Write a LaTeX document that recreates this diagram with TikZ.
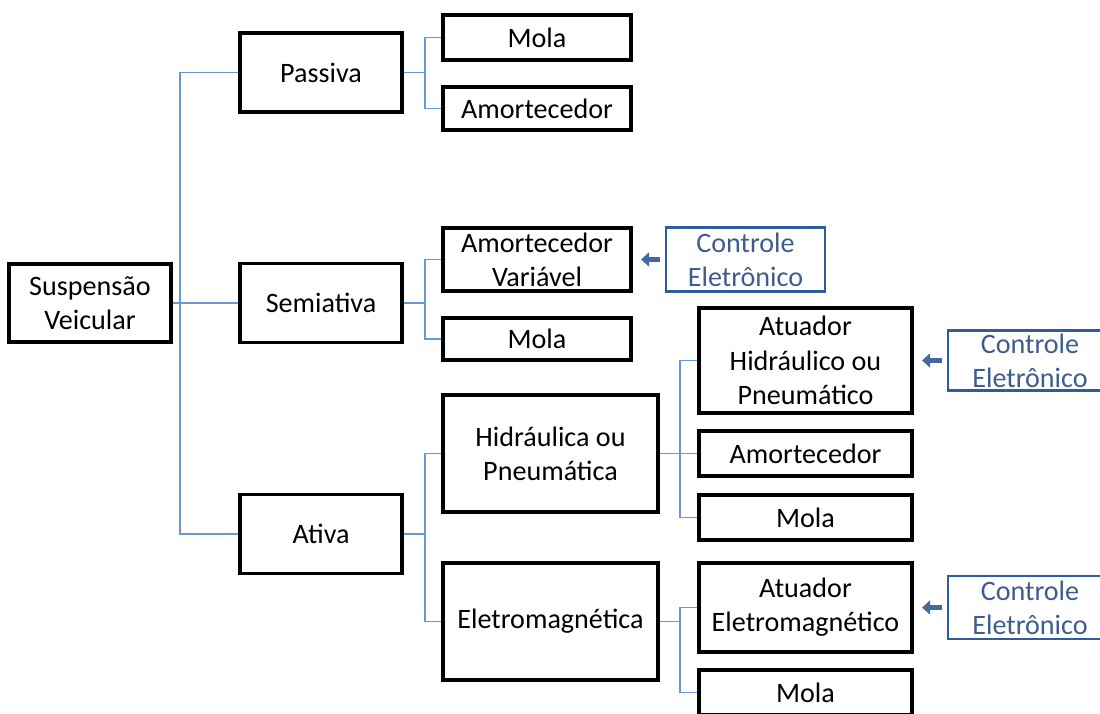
\documentclass[tikz,border=0pt]{standalone}
\usepackage{fontspec}
\setmainfont{Carlito}
\usepackage{tikz}
\usetikzlibrary{positioning, arrows.meta}

\definecolor{linkblue}{HTML}{6B96CF}
\definecolor{ctrlblue}{HTML}{2E5D9E}
\definecolor{ctrltext}{HTML}{3E5C8E}
\definecolor{feedblue}{HTML}{44699F}

\tikzset{
  box/.style={draw, line width=1.8pt, align=center, inner sep=0pt,
    font=\fontsize{16}{19.5}\selectfont},
  ctrl/.style={box, draw=ctrlblue, text=ctrltext, line width=1.3pt},
  link/.style={draw=linkblue, line width=0.9pt},
  feed/.style={draw=feedblue, line width=2.8pt, shorten <=0.1cm, shorten >=0.17cm,
    -{Triangle[length=0.16cm, width=0.28cm]}}
}

\begin{document}
\begin{tikzpicture}[node distance=2cm, on grid]
  \useasboundingbox (-1.8,-8.2) rectangle (20.2,6.06);
  \clip (-1.8,-8.2) rectangle (20.2,6.06);

  \node[box, minimum width=3.24cm, minimum height=1.56cm] (root) at (0,0) {Suspensão\\Veicular};
  \node[box, minimum width=3.24cm, minimum height=1.58cm] (passiva) [above right=4.61cm and 4.62cm of root] {Passiva};
  \node[box, minimum width=3.24cm, minimum height=1.58cm] (semi) [right=4.62cm of root] {Semiativa};
  \node[box, minimum width=3.24cm, minimum height=1.58cm] (ativa) [below=4.62cm of semi] {Ativa};

  % passiva
  \node[box, minimum width=3.76cm, minimum height=0.9cm] (pmola) [above right=0.7cm and 4.32cm of passiva] {Mola};
  \node[box, minimum width=3.76cm, minimum height=0.86cm] (pamort) [below right=0.72cm and 4.32cm of passiva] {Amortecedor};

  % semiativa
  \node[box, minimum width=3.76cm, minimum height=1.26cm] (samort) [above right=0.87cm and 4.32cm of semi] {Amortecedor\\Variável};
  \node[box, minimum width=3.76cm, minimum height=0.84cm] (smola) [below right=0.72cm and 4.32cm of semi] {Mola};
  \node[ctrl, minimum width=3.18cm, minimum height=1.28cm] (ctrl1) [right=4.17cm of samort] {Controle\\Eletrônico};

  % ativa
  \node[box, minimum width=4.3cm, minimum height=2.34cm] (hidr) [above right=1.61cm and 4.59cm of ativa] {Hidráulica ou\\Pneumática};
  \node[box, minimum width=4.3cm, minimum height=2.34cm] (eletro) [below right=1.75cm and 4.59cm of ativa] {Eletromagnética};

  \node[box, minimum width=4.26cm, minimum height=2.1cm] (atuh) [above right=1.86cm and 5.1cm of hidr] {Atuador\\Hidráulico ou\\Pneumático};
  \node[box, minimum width=4.26cm, minimum height=0.9cm] (hamort) [right=5.1cm of hidr] {Amortecedor};
  \node[box, minimum width=4.26cm, minimum height=0.9cm] (hmola) [below right=1.28cm and 5.1cm of hidr] {Mola};
  \node[ctrl, minimum width=3.28cm, minimum height=1.2cm] (ctrl2) [right=4.49cm of atuh] {Controle\\Eletrônico};

  \node[box, minimum width=4.26cm, minimum height=1.78cm] (atue) [above right=0.28cm and 5.1cm of eletro] {Atuador\\Eletromagnético};
  \node[box, minimum width=4.26cm, minimum height=0.9cm] (emola) [below right=1.42cm and 5.1cm of eletro] {Mola};
  \node[ctrl, minimum width=3.28cm, minimum height=1.26cm] (ctrl3) [right=4.49cm of atue] {Controle\\Eletrônico};

  \coordinate[right=1.8cm of root] (bus0);
  \coordinate[right=2.08cm of passiva] (bus1);
  \coordinate[right=2.08cm of semi] (bus2);
  \coordinate[right=2.08cm of ativa] (bus3);
  \coordinate[right=2.59cm of hidr] (bus4);
  \coordinate[right=2.59cm of eletro] (bus5);

  \path[link]
  (root.east) -- (semi.west)
  (passiva.west) -| (bus0) |- (ativa.west)
  (passiva.east) -- (bus1)
    (pmola.west) -| (bus1) |- (pamort.west)
  (semi.east) -- (bus2)
    (samort.west) -| (bus2) |- (smola.west)
  (ativa.east) -- (bus3)
    (hidr.west) -| (bus3) |- (eletro.west)
  (hidr.east) -- (hamort.west)
    (atuh.west) -| (bus4) |- (hmola.west)
  (eletro.east) -- (bus5)
    (atue.west) -| (bus5) |- (emola.west);

  \draw[feed] (ctrl1) -- (samort);
  \draw[feed] (ctrl2) -- (atuh);
  \draw[feed] (ctrl3) -- (atue);
\end{tikzpicture}
\end{document}
